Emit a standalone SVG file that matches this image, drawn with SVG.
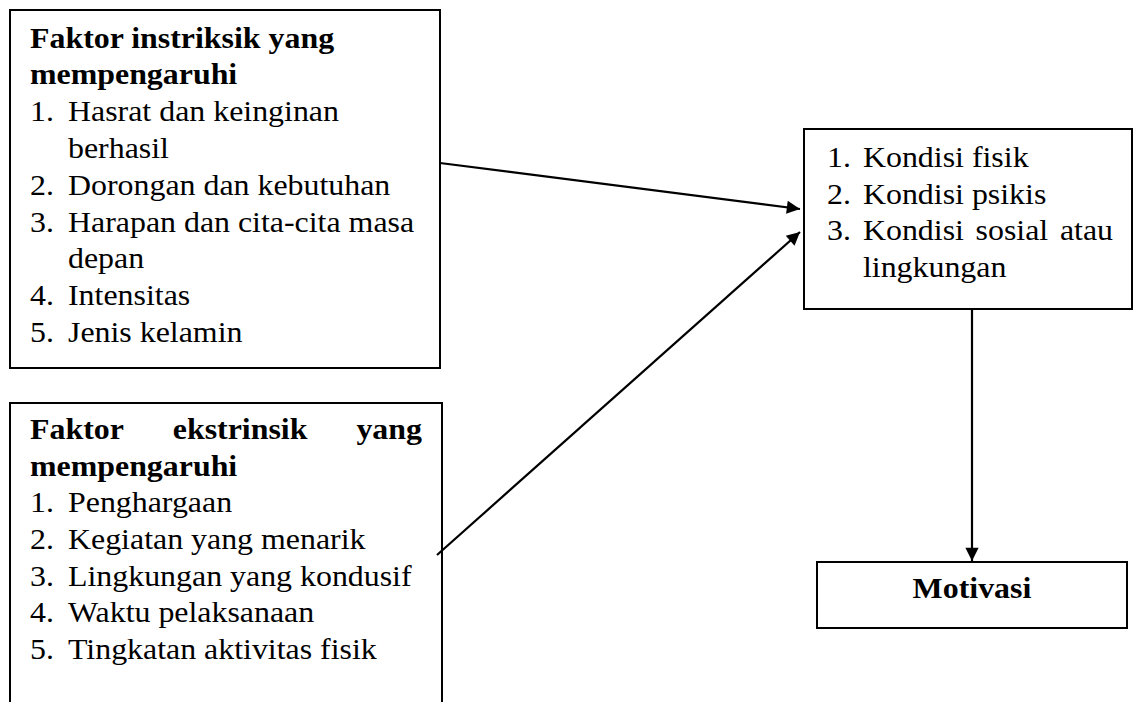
<svg xmlns="http://www.w3.org/2000/svg" width="1134" height="702" viewBox="0 0 1134 702">
<style>
.box{fill:#fff;stroke:#000;stroke-width:2}
text{font-family:"Liberation Serif","Times New Roman",serif;font-size:29px;fill:#000}
.b{font-weight:bold}
.conn{stroke:#000;stroke-width:2.2;fill:none}
</style>
<defs>
<marker id="ah" viewBox="0 0 10 10" refX="10" refY="5" markerWidth="7" markerHeight="6" markerUnits="strokeWidth" orient="auto">
<path d="M0,0 L10,5 L0,10 z" fill="#000"/>
</marker>
</defs>
<rect width="1134" height="702" fill="#fff"/>
<g id="intrinsik">
<rect class="box" x="10" y="10" width="430" height="358"/>
<g transform="scale(1.1 1)">
<text class="b" x="27.27" y="48">Faktor instriksik yang</text>
<text class="b" x="27.27" y="84">mempengaruhi</text>
<text x="27.27" y="121">1.</text><text x="61.82" y="121">Hasrat dan keinginan</text>
<text x="61.82" y="158">berhasil</text>
<text x="27.27" y="195">2.</text><text x="61.82" y="195">Dorongan dan kebutuhan</text>
<text x="27.27" y="232">3.</text><text x="61.82" y="232">Harapan dan cita-cita masa</text>
<text x="61.82" y="268">depan</text>
<text x="27.27" y="305">4.</text><text x="61.82" y="305">Intensitas</text>
<text x="27.27" y="342">5.</text><text x="61.82" y="342">Jenis kelamin</text>
</g>
</g>
<g id="ekstrinsik">
<path class="box" d="M10,710 V403 H442 V710"/>
<g transform="scale(1.1 1)">
<text class="b" x="27.27" y="439">Faktor</text>
<text class="b" x="157.1" y="439">ekstrinsik</text>
<text class="b" x="324" y="439">yang</text>
<text class="b" x="27.27" y="476">mempengaruhi</text>
<text x="27.27" y="512.5">1.</text><text x="61.82" y="512.5">Penghargaan</text>
<text x="27.27" y="549">2.</text><text x="61.82" y="549">Kegiatan yang menarik</text>
<text x="27.27" y="586">3.</text><text x="61.82" y="586">Lingkungan yang kondusif</text>
<text x="27.27" y="622.5">4.</text><text x="61.82" y="622.5">Waktu pelaksanaan</text>
<text x="27.27" y="659">5.</text><text x="61.82" y="659">Tingkatan aktivitas fisik</text>
</g>
</g>
<g id="kondisi">
<rect class="box" x="804" y="129" width="328" height="180"/>
<g transform="scale(1.1 1)">
<text x="751.8" y="167">1.</text><text x="784.5" y="167">Kondisi fisik</text>
<text x="751.8" y="204">2.</text><text x="784.5" y="204">Kondisi psikis</text>
<text x="751.8" y="240">3.</text><text x="784.5" y="240">Kondisi</text><text x="886.9" y="240">sosial</text><text x="963.6" y="240">atau</text>
<text x="784.5" y="277">lingkungan</text>
</g>
</g>
<g id="motivasi">
<rect class="box" x="817" y="562" width="310" height="66"/>
<g transform="scale(1.1 1)">
<text class="b" x="883.6" y="598" text-anchor="middle">Motivasi</text>
</g>
</g>
<g id="connectors">
<line class="conn" x1="440" y1="163" x2="800" y2="209" marker-end="url(#ah)"/>
<line class="conn" x1="437" y1="555" x2="800" y2="232" marker-end="url(#ah)"/>
<line class="conn" x1="972" y1="309" x2="972" y2="561" marker-end="url(#ah)"/>
</g>
</svg>
